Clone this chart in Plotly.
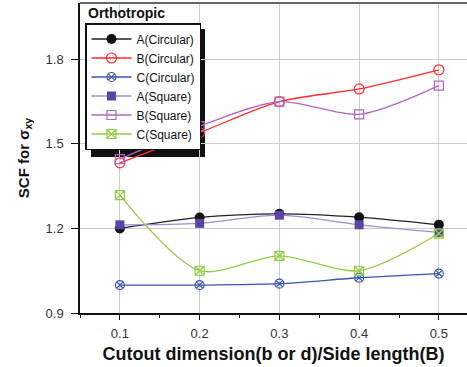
import plotly.graph_objects as go

x_vals = [0.1, 0.2, 0.3, 0.4, 0.5]
a_circular = [1.200, 1.239, 1.252, 1.240, 1.213]
b_circular = [1.433, 1.540, 1.650, 1.695, 1.763]
c_circular = [0.999, 0.999, 1.004, 1.025, 1.040]
a_square = [1.213, 1.218, 1.247, 1.213, 1.186]
b_square = [1.446, 1.563, 1.650, 1.605, 1.707]
c_square = [1.318, 1.050, 1.103, 1.050, 1.182]

y_ticks = [0.9, 1.2, 1.5, 1.8]
y_tick_text = ["0.9", "1.2", "1.5", "1.8"]
x_ticks = [0.1, 0.2, 0.3, 0.4, 0.5]
x_tick_text = ["0.1", "0.2", "0.3", "0.4", "0.5"]

series = [
    ("A(Circular)", a_circular, "#222222", dict(symbol="circle", color="#111111", size=10)),
    ("B(Circular)", b_circular, "#ff2a2a", dict(symbol="circle-open", color="#ff2a2a", size=10, line=dict(width=1.2))),
    ("C(Circular)", c_circular, "#3a55b0", dict(symbol="circle-x-open", color="#3a55b0", size=9, line=dict(width=1.2))),
    ("A(Square)", a_square, "#9c8ed6", dict(symbol="square", color="#5a45a5", size=9)),
    ("B(Square)", b_square, "#b564c4", dict(symbol="square-open", color="#b564c4", size=9, line=dict(width=1.2))),
    ("C(Square)", c_square, "#90cc45", dict(symbol="square-x-open", color="#90cc45", size=9, line=dict(width=1.2))),
]

fig = go.Figure()
for name, ys, lc, mk in series:
    fig.add_trace(go.Scatter(
        x=x_vals, y=ys, name=name, mode="lines+markers",
        line=dict(color=lc, width=1.3, shape="spline", smoothing=0.8),
        marker=mk,
    ))

PW, PH = 387, 310
LEG_TOP = 23
# legend drop shadow
fig.add_shape(type="rect", xref="paper", yref="paper",
              x0=(91 - 80) / PW, x1=(205 - 80) / PW,
              y0=(313 - 157) / PH, y1=(313 - LEG_TOP - 6) / PH,
              fillcolor="#111111", line=dict(width=0), layer="below")
# top frame line
fig.add_shape(type="line", xref="paper", yref="paper", x0=0, x1=1, y0=1, y1=1,
              line=dict(color="#666666", width=2))

fig.add_annotation(text="<b>Orthotropic</b>", xref="paper", yref="paper",
                   x=(86 - 80) / PW, y=(313 - 13) / PH, xanchor="left", yanchor="middle",
                   showarrow=False, font=dict(size=14, color="#111111"))

fig.update_layout(
    width=467, height=367,
    margin=dict(l=80, r=0, t=3, b=54),
    paper_bgcolor="white", plot_bgcolor="white",
    font=dict(family="Liberation Sans, Arial", color="#111111"),
    showlegend=True,
    legend=dict(x=(85 - 80) / PW, y=(313 - LEG_TOP) / PH, xanchor="left", yanchor="top",
                bgcolor="white", bordercolor="#111111", borderwidth=1.5,
                font=dict(size=12, color="#111111"), tracegroupgap=0,
                itemwidth=40),
    xaxis=dict(range=[0.05, 0.05 + PW / 797.5], tickvals=x_ticks, ticktext=x_tick_text,
               showgrid=True, gridcolor="#cccccc", gridwidth=1,
               showline=True, linecolor="#111111", linewidth=1.5,
               ticks="outside", ticklen=5, tickcolor="#111111", ticklabelstandoff=3,
               minor=dict(tickvals=[0.05, 0.15, 0.25, 0.35, 0.45], ticks="outside", ticklen=3, tickcolor="#111111"),
               tickfont=dict(size=13, color="#333333"), zeroline=False, automargin=False,
               title=dict(text="<b>Cutout dimension(b or d)/Side length(B)</b>", font=dict(size=18), standoff=7)),
    yaxis=dict(range=[0.9, 2.0], tickvals=y_ticks, ticktext=y_tick_text,
               showgrid=True, gridcolor="#cccccc", gridwidth=1,
               showline=True, linecolor="#111111", linewidth=1.5,
               ticks="outside", ticklen=7, tickcolor="#111111", ticklabelstandoff=5,
               tickfont=dict(size=13, color="#333333"), zeroline=False, automargin=False,
               title=dict(text="<b>SCF for σ<sub>xy</sub></b>", font=dict(size=15), standoff=12)),
)

fig.write_html("out.html", config={"displayModeBar": False},
               post_script="document.body.style.margin='0';document.body.style.padding='0';")
